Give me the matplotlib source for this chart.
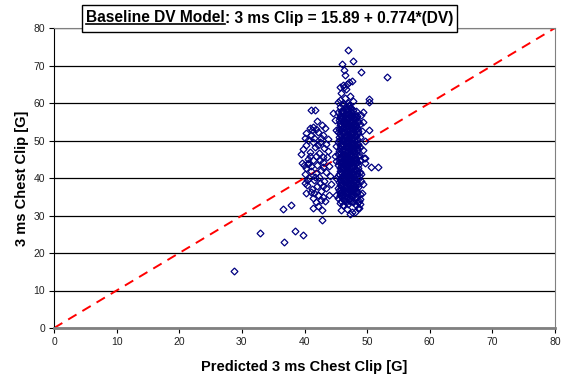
import matplotlib.pyplot as plt
from matplotlib.patches import Rectangle
from matplotlib.lines import Line2D

plt.rcParams['font.family'] = ['Liberation Sans', 'DejaVu Sans']

title_main = "Baseline DV Model"
title_rest = ": 3 ms Clip = 15.89 + 0.774*(DV)"
x_label = "Predicted 3 ms Chest Clip [G]"
y_label = "3 ms Chest Clip [G]"
ticks = [0, 10, 20, 30, 40, 50, 60, 70, 80]
fit_line = [0, 80]

# dense main cluster, read row by row
main_x = [
    45.6, 46.1, 46.5, 46.9, 47.3, 47.8, 48.2, 48.7,
    45.4, 45.9, 46.3, 46.8, 47.2, 47.6, 48.1, 48.9,
    45.7, 46.0, 46.6, 47.0, 47.5, 47.9, 48.4, 48.8,
    45.3, 45.8, 46.2, 46.7, 47.1, 47.7, 48.0, 48.6,
    45.5, 46.0, 46.4, 46.9, 47.4, 47.8, 48.3, 49.0,
    45.4, 45.9, 46.3, 46.8, 47.2, 47.6, 48.2, 48.7,
    45.6, 46.1, 46.5, 47.0, 47.4, 47.9, 48.4, 48.9,
    45.3, 45.8, 46.2, 46.7, 47.1, 47.6, 48.1, 48.6,
    45.5, 46.0, 46.4, 46.9, 47.3, 47.8, 48.3, 48.8,
    45.4, 45.9, 46.3, 46.8, 47.2, 47.7, 48.2, 48.7,
    45.6, 46.1, 46.5, 47.0, 47.5, 47.9, 48.4, 48.9,
    45.3, 45.8, 46.2, 46.7, 47.1, 47.6, 48.1, 48.6,
    45.5, 46.0, 46.4, 46.9, 47.3, 47.8, 48.3, 48.8,
    45.4, 45.9, 46.3, 46.8, 47.2, 47.7, 48.2, 48.6,
    45.6, 46.1, 46.5, 47.0, 47.4, 47.9, 48.3, 48.8,
    45.5, 45.9, 46.4, 46.8, 47.3, 47.7, 48.1, 48.5,
    45.7, 46.2, 46.6, 47.0, 47.5, 48.0, 48.4, 45.4,
    45.8, 46.3, 46.7, 47.1, 47.6, 48.0, 48.5,
    45.6, 46.1, 46.4, 46.9, 47.4, 47.8, 48.4,
    45.5, 45.9, 46.4, 46.9, 47.3, 47.7, 48.2,
    45.7, 46.1, 46.6, 47.0, 47.5, 47.9, 48.5,
    45.6, 46.2, 46.6, 47.1, 47.5, 48.0, 48.5,
    45.5, 46.0, 46.5, 46.9, 47.4, 47.8, 48.4,
    45.7, 46.2, 46.6, 47.1, 47.5, 48.0, 48.5,
    45.5, 46.0, 46.5, 46.9, 47.4, 47.8, 48.4,
    45.6, 46.1, 46.6, 47.0, 47.5, 48.0, 48.5,
    45.5, 46.0, 46.4, 46.9, 47.4, 47.8, 48.4,
    45.7, 46.2, 46.6, 47.1, 47.6, 48.0, 48.5,
    45.5, 46.0, 46.5, 46.9, 47.4, 47.9, 48.4,
    45.6, 46.1, 46.6, 47.0, 47.5, 48.0, 48.5,
    45.5, 46.0, 46.5, 46.9, 47.4, 47.8, 48.4,
    45.7, 46.2, 46.6, 47.1, 47.6, 48.0, 48.5,
    45.6, 46.0, 46.5, 47.0, 47.4, 47.9, 48.3,
]
main_y = [
    33.4, 32.9, 33.8, 33.1, 34.0, 33.5, 32.7, 33.9,
    34.8, 35.2, 34.4, 35.0, 34.6, 35.3, 34.9, 34.3,
    36.1, 36.6, 35.9, 36.4, 36.0, 36.7, 36.2, 35.8,
    37.4, 37.9, 37.2, 37.7, 38.0, 37.3, 37.8, 37.5,
    39.0, 38.6, 39.3, 38.8, 39.4, 39.1, 38.7, 39.2,
    40.6, 40.2, 40.9, 40.4, 40.7, 40.3, 40.8, 40.5,
    41.9, 42.3, 41.7, 42.1, 42.4, 41.8, 42.2, 41.6,
    43.5, 43.1, 43.8, 43.3, 43.7, 43.2, 43.9, 43.4,
    45.0, 44.6, 45.3, 44.8, 45.2, 44.7, 45.1, 44.9,
    46.4, 46.8, 46.2, 46.6, 46.3, 46.9, 46.5, 46.1,
    48.1, 47.7, 48.3, 47.9, 48.2, 47.6, 48.0, 48.4,
    49.6, 49.2, 49.8, 49.3, 49.7, 49.4, 49.9, 49.1,
    51.0, 50.7, 51.3, 50.8, 51.2, 50.6, 51.1, 50.9,
    52.4, 52.8, 52.2, 52.6, 52.9, 52.3, 52.7, 52.5,
    54.1, 53.7, 54.3, 53.9, 54.2, 53.6, 54.0, 54.4,
    55.4, 55.8, 55.2, 55.6, 55.3, 55.9, 55.5, 55.1,
    56.9, 57.3, 56.7, 57.1, 56.8, 57.2, 56.6, 57.5,
    33.9, 34.2, 33.6, 34.1, 33.8, 34.3, 33.7,
    35.4, 35.6, 35.1, 35.7, 35.2, 35.5, 35.0,
    36.9, 37.1, 36.6, 37.0, 36.8, 37.2, 36.7,
    38.2, 38.4, 38.1, 38.5, 38.3, 38.0, 38.4,
    39.8, 40.0, 39.7, 39.9, 40.1, 39.6, 39.8,
    41.2, 41.4, 41.1, 41.5, 41.3, 41.0, 41.4,
    42.8, 42.6, 43.0, 42.7, 42.9, 42.5, 42.8,
    44.2, 44.4, 44.1, 44.3, 44.0, 44.4, 44.2,
    45.7, 45.9, 45.6, 45.8, 46.0, 45.7, 45.9,
    47.2, 47.4, 47.1, 47.3, 47.5, 47.2, 47.4,
    48.7, 48.9, 48.6, 48.8, 49.0, 48.7, 48.9,
    50.2, 50.4, 50.1, 50.3, 50.5, 50.2, 50.4,
    51.7, 51.9, 51.6, 51.8, 52.0, 51.7, 51.9,
    53.2, 53.4, 53.1, 53.3, 53.5, 53.2, 53.4,
    54.7, 54.9, 54.6, 54.8, 55.0, 54.7, 54.9,
    56.2, 56.4, 56.1, 56.3, 56.5, 56.2, 56.4,
]

# extra points in the solid core of the main cluster
core_x = [
    45.9, 46.3, 46.8, 47.2, 47.6, 48.0, 48.4, 46.5,
    45.8, 46.2, 46.6, 47.1, 47.5, 47.9, 48.3, 47.3,
    45.9, 46.4, 46.8, 47.2, 47.7, 48.1, 46.1, 47.0,
    45.8, 46.3, 46.7, 47.1, 47.5, 48.0, 48.4, 46.9,
    45.9, 46.3, 46.8, 47.3, 47.7, 48.1, 46.5, 47.5,
    45.8, 46.2, 46.7, 47.1, 47.6, 48.0, 48.3, 46.9,
    45.9, 46.4, 46.8, 47.2, 47.6, 48.1, 46.2, 47.4,
    45.8, 46.3, 46.7, 47.1, 47.5, 47.9, 48.3, 46.6,
    45.9, 46.3, 46.8, 47.2, 47.7, 48.0, 46.1, 47.4,
    46.0, 46.4, 46.9, 47.3, 47.7, 46.6, 47.1, 46.2,
]
core_y = [
    36.4, 36.9, 36.2, 36.8, 36.5, 37.0, 36.3, 37.6,
    38.9, 39.5, 39.0, 39.6, 38.8, 39.4, 39.1, 40.2,
    41.6, 42.0, 41.4, 41.9, 41.5, 42.1, 43.0, 43.4,
    44.0, 44.5, 43.9, 44.4, 44.1, 44.6, 44.2, 45.4,
    46.0, 46.5, 45.9, 46.4, 46.1, 46.6, 47.6, 47.9,
    48.5, 49.0, 48.3, 48.9, 48.4, 49.1, 48.6, 50.0,
    51.5, 51.0, 51.4, 50.9, 51.6, 51.2, 52.3, 52.1,
    53.8, 54.4, 53.9, 54.3, 53.7, 54.2, 53.9, 55.0,
    56.0, 56.7, 56.1, 56.6, 56.0, 56.5, 57.8, 57.6,
    58.0, 58.5, 58.3, 58.7, 58.2, 59.3, 59.6, 60.1,
]

# scattered points around the main cluster
edge_x = [
    46.2, 46.6, 45.9, 47.3, 46.4, 45.7, 47.8, 46.9, 46.1, 45.6, 47.5, 46.7, 48.2, 45.9, 47.1,
    47.0, 47.8, 46.0, 49.0, 53.2, 46.3, 46.5, 47.1, 47.6, 46.8, 45.7, 46.3,
    50.3, 50.3, 44.5, 45.3, 49.5, 50.6, 51.8, 49.1, 49.3, 49.6, 49.2, 49.4, 49.0, 49.7, 49.4, 49.2, 48.9,
    47.2, 48.6, 46.2, 45.8, 47.6, 46.8, 48.1, 45.1, 45.0, 45.1, 45.0, 45.1, 44.9, 44.8,
    50.3, 49.4, 49.7, 48.7,
]
edge_y = [
    64.9, 63.8, 62.6, 62.0, 61.3, 60.8, 60.5, 60.0, 59.4, 58.9, 58.7, 58.1, 57.8, 57.9, 59.2,
    74.1, 71.2, 70.4, 68.3, 67.0, 68.7, 67.5, 65.7, 65.9, 65.2, 64.4, 64.4,
    61.0, 60.4, 57.4, 60.4, 45.3, 42.9, 42.9, 41.2, 47.5, 49.8, 52.5, 55.0, 56.8, 44.0, 38.5, 36.0, 33.2,
    30.3, 31.9, 32.8, 31.5, 31.0, 31.8, 30.9, 35.5, 40.1, 44.5, 48.6, 52.7, 55.6, 46.0,
    52.8, 57.6, 45.3, 32.0,
]

# left cluster
left_x = [
    41.0, 41.7, 41.4, 41.9, 42.8, 41.2, 42.2, 40.1, 40.6, 42.5, 39.8, 40.9, 41.6, 42.3, 43.1,
    43.0, 40.5, 41.3, 42.0, 43.6, 40.2, 41.1, 41.8, 42.6, 43.4, 40.7, 41.5, 42.3, 43.1, 44.0,
    40.1, 40.4, 41.2, 42.0, 42.7, 43.5, 41.4, 42.2, 41.8, 42.8, 42.8, 40.3, 43.3, 39.6, 43.8,
    42.9, 41.5, 40.3, 42.0, 43.3, 39.5, 40.8, 41.8, 40.0, 43.9, 44.2, 42.4, 41.0, 43.9, 40.6,
    42.5, 41.7,
    40.3, 41.0, 42.6, 43.4, 40.8, 42.9, 41.1, 43.0, 40.4, 42.9, 41.5, 43.0, 42.1, 41.3, 39.9,
    42.1, 41.4, 40.5, 43.7, 42.6,
]
left_y = [
    58.1, 58.1, 53.7, 53.2, 54.1, 52.8, 52.4, 50.7, 50.1, 49.7, 47.7, 47.0, 48.2, 46.6, 47.9,
    44.3, 45.2, 44.8, 43.5, 45.5, 42.6, 42.0, 41.3, 42.2, 41.6, 40.1, 39.6, 40.4, 39.2, 40.6,
    38.6, 38.1, 37.2, 37.8, 36.5, 37.4, 34.6, 35.4, 33.5, 31.5, 28.8, 35.9, 33.9, 44.0, 50.3,
    51.6, 50.8, 48.7, 55.2, 53.3, 46.5, 53.4, 45.9, 41.0, 43.2, 38.3, 44.9, 36.4, 35.6, 43.7,
    38.8, 40.3,
    52.0, 51.5, 50.8, 49.0, 46.0, 45.7, 43.2, 43.0, 39.4, 37.9, 35.9, 35.0, 32.6, 31.9, 43.6,
    48.8, 49.6, 44.1, 47.2, 34.2,
]

# low outliers
low_x = [28.7, 32.9, 36.7, 38.5, 39.8, 36.6, 37.9]
low_y = [15.2, 25.3, 22.9, 25.9, 24.8, 31.7, 32.8]

all_x = main_x + core_x + edge_x + left_x + low_x
all_y = main_y + core_y + edge_y + left_y + low_y

fig = plt.figure(figsize=(5.63, 3.78), dpi=100)
fig.patch.set_facecolor('white')
ax = fig.add_axes([54 / 563, 50 / 378, 501 / 563, 300 / 378])

ax.set_xlim(0, 80)
ax.set_ylim(0, 80)
ax.set_xticks(ticks)
ax.set_yticks(ticks)
ax.yaxis.grid(True, color='black', lw=0.9)
ax.set_axisbelow(True)

ax.plot(fit_line, fit_line, color='red', lw=1.4, ls=(0, (5, 3.5)), zorder=2)
ax.plot(all_x, all_y, ls='none', marker='D', ms=3.5, mew=0.9,
        mfc='none', mec='#000080', zorder=3)

ax.spines['left'].set_color('black')
ax.spines['bottom'].set_color('#808080')
ax.spines['bottom'].set_linewidth(2)
ax.spines['top'].set_color('#808080')
ax.spines['right'].set_color('#808080')
ax.tick_params(direction='out', length=3.5, width=0.8, labelsize=7.5,
               labelcolor='#222222', pad=3)

ax.set_xlabel(x_label, fontsize=10.5, weight='bold', labelpad=9)
ax.set_ylabel(y_label, fontsize=10.5, weight='bold', labelpad=3)

# title with underlined first part, in a box
fig.canvas.draw()
r = fig.canvas.get_renderer()
W, H = fig.bbox.width, fig.bbox.height
yc = 1 - 18 / 378
t1 = fig.text(0, yc, title_main, fontsize=11.2, weight='bold', va='center', ha='left', zorder=5)
t2 = fig.text(0, yc, title_rest, fontsize=11.2, weight='bold', va='center', ha='left', zorder=5)
w1 = t1.get_window_extent(r).width
w2 = t2.get_window_extent(r).width
x0 = 270 - (w1 + w2) / 2
t1.set_x(x0 / W)
t2.set_x((x0 + w1) / W)
bb = t1.get_window_extent(r)
uy = bb.y0 + 1.5
fig.add_artist(Line2D([x0 / W, (x0 + w1) / W], [uy / H, uy / H], color='black', lw=1.2, zorder=5))
fig.add_artist(Rectangle((82 / W, 1 - 32 / 378), 375 / W, 27 / 378, transform=fig.transFigure,
                         fc='white', ec='black', lw=1, zorder=4))

fig.savefig('out.png', dpi=100)
